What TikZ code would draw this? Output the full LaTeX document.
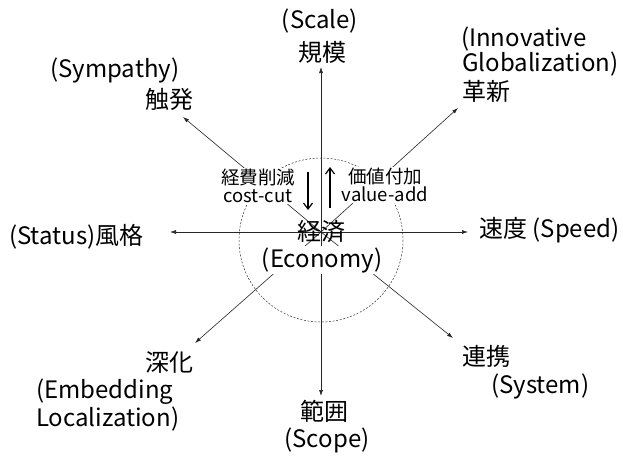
\documentclass[tikz,border=0pt]{standalone}
\usepackage{fontspec}
\setmainfont{Noto Sans CJK JP}
\usetikzlibrary{arrows.meta}
\tikzset{
  big/.style={inner sep=0pt, font=\fontsize{24}{28}\selectfont},
  small/.style={inner sep=1pt, fill=white, align=center, font=\fontsize{18.5}{18.5}\selectfont},
  ray/.style={line width=0.6pt, draw=black!85, -{Latex[length=6pt,width=4pt]}},
  flow/.style={line width=1.2pt, -{Straight Barb[length=6pt,width=9pt]}},
  ring/.style={line width=0.5pt, dash pattern=on 2pt off 1.6pt, draw=black!80}
}
\begin{document}
\begin{tikzpicture}[x=1pt,y=-1pt]
\useasboundingbox[fill=white] (0,0) rectangle (623,461);

% centre and arrow ends
\coordinate (c) at (321,232);
\coordinate (tN) at (321,67);
\coordinate (tS) at (321,396);
\coordinate (tW) at (170,232);
\coordinate (tE) at (468,232);
\coordinate (tNW) at (183,117);
\coordinate (tNE) at (458,108);
\coordinate (tSW) at (195,343);
\coordinate (tSE) at (453,338);

% dashed ring
\draw[ring] (321,240) circle[radius=82];

% rays
\foreach \t in {tN,tS,tW,tE,tNW,tNE,tSW,tSE}
  \draw[ray] (c) -- (\t);

% centre labels
\node[big, anchor=base] (eco1) at (321,240) {経済};
\node[big, anchor=base, fill=white, inner sep=1.5pt] (eco2) at (322,267) {(Economy)};

% cost-cut / value-add
\node[small] (cc) at (258,186) {経費削減\\cost-cut};
\node[small] (va) at (385,185) {価値付加\\value-add};
\coordinate (dA) at (308,172);
\coordinate (dB) at (308,210);
\coordinate (uA) at (330,208);
\coordinate (uB) at (330,167);
\draw[flow] (dA) -- (dB);
\draw[flow] (uA) -- (uB);

% outer labels
\node[big, anchor=base] (n1) at (320,28) {(Scale)};
\node[big, anchor=base] (n2) at (322,61) {規模};

\node[big, anchor=base west] (nw1) at (50,77) {(Sympathy)};
\node[big, anchor=base west] (nw2) at (145,108) {触発};

\node[big, anchor=base west] (ne1) at (461,46) {(Innovative};
\node[big, anchor=base west] (ne2) at (462,71) {Globalization)};
\node[big, anchor=base west] (ne3) at (462,100) {革新};

\node[big, anchor=base west] (w1) at (9,244) {(Status)風格};
\node[big, anchor=base west] (e1) at (479,237) {速度 (Speed)};

\node[big, anchor=base west] (sw1) at (145,371) {深化};
\node[big, anchor=base west] (sw2) at (36,398) {(Embedding};
\node[big, anchor=base west] (sw3) at (36,426) {Localization)};

\node[big, anchor=base west] (se1) at (462,365) {連携};
\node[big, anchor=base west] (se2) at (491,393) {(System)};

\node[big, anchor=base] (s1) at (324,420) {範囲};
\node[big, anchor=base] (s2) at (327,447) {(Scope)};
\end{tikzpicture}
\end{document}
